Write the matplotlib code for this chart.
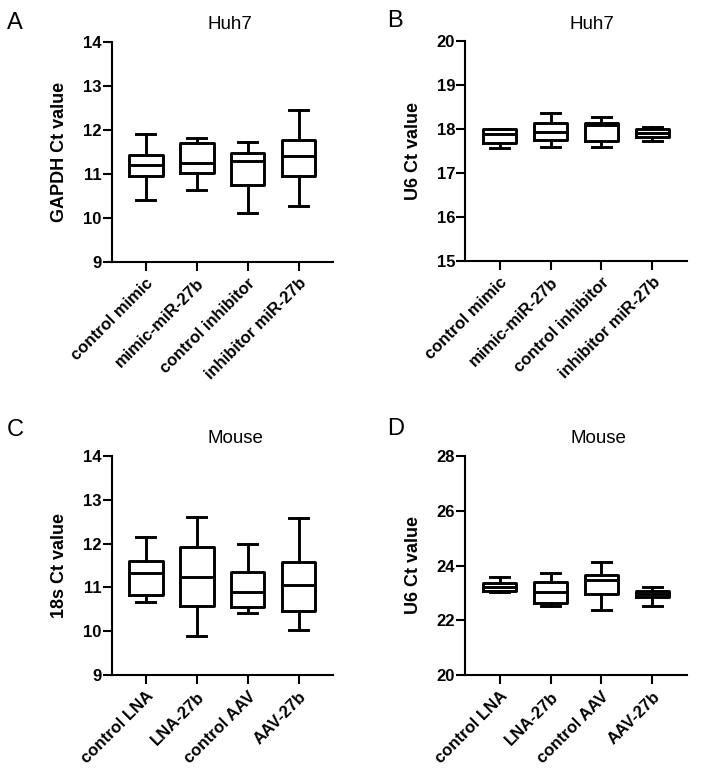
import matplotlib
matplotlib.use("Agg")
import matplotlib.pyplot as plt

plt.rcParams['font.family'] = ['Liberation Sans', 'DejaVu Sans']

# ─── Data ───────────────────────────────────────────────────────────────────
huh7_groups = ["control mimic", "mimic-miR-27b", "control inhibitor", "inhibitor miR-27b"]
mouse_groups = ["control LNA", "LNA-27b", "control AAV", "AAV-27b"]

# each list: whisker low, Q1, median, Q3, whisker high
gapdh_lo  = [10.42, 10.64, 10.12, 10.27]
gapdh_q1  = [10.95, 11.02, 10.75, 10.95]
gapdh_med = [11.20, 11.25, 11.30, 11.41]
gapdh_q3  = [11.44, 11.70, 11.49, 11.77]
gapdh_hi  = [11.91, 11.82, 11.73, 12.45]

u6h_lo  = [17.57, 17.59, 17.60, 17.74]
u6h_q1  = [17.68, 17.76, 17.73, 17.83]
u6h_med = [17.89, 17.95, 18.09, 17.92]
u6h_q3  = [18.00, 18.15, 18.14, 18.00]
u6h_hi  = [18.00, 18.36, 18.29, 18.06]

s18_lo  = [10.67, 9.89, 10.41, 10.03]
s18_q1  = [10.83, 10.59, 10.55, 10.47]
s18_med = [11.33, 11.23, 10.89, 11.05]
s18_q3  = [11.61, 11.91, 11.36, 11.58]
s18_hi  = [12.15, 12.61, 12.00, 12.58]

u6m_lo  = [23.02, 22.51, 22.37, 22.51]
u6m_q1  = [23.08, 22.63, 22.95, 22.85]
u6m_med = [23.22, 23.05, 23.46, 22.98]
u6m_q3  = [23.35, 23.39, 23.66, 23.07]
u6m_hi  = [23.58, 23.73, 24.12, 23.22]


def make_stats(lo, q1, med, q3, hi):
    return [dict(whislo=a, q1=b, med=c, q3=d, whishi=e, fliers=[])
            for a, b, c, d, e in zip(lo, q1, med, q3, hi)]


def panel(rect, stats, labels, ylim, yticks, ylabel, title, title_x, letter, letter_xy):
    ax = fig.add_axes(rect)
    lw = 2.1
    ax.bxp(stats, positions=range(len(stats)), widths=0.66, capwidths=0.38,
           showfliers=False,
           boxprops=dict(color='black', linewidth=lw),
           medianprops=dict(color='black', linewidth=lw),
           whiskerprops=dict(color='black', linewidth=lw),
           capprops=dict(color='black', linewidth=lw))
    ax.set_xlim(-0.67, len(stats) - 0.33)
    ax.set_ylim(*ylim)
    ax.set_yticks(yticks)
    ax.set_xticks(range(len(labels)))
    ax.set_xticklabels(labels, rotation=45, ha='right', rotation_mode='anchor',
                       fontsize=12, fontweight='bold')
    for t in ax.get_yticklabels():
        t.set_fontweight('bold')
        t.set_fontsize(12)
    ax.spines['top'].set_visible(False)
    ax.spines['right'].set_visible(False)
    ax.spines['left'].set_linewidth(1.5)
    ax.spines['bottom'].set_linewidth(1.5)
    ax.tick_params(axis='y', width=1.5, length=6.5, pad=1)
    ax.tick_params(axis='x', width=1.5, length=6.5, pad=3)
    ax.set_ylabel(ylabel, fontsize=13, fontweight='bold')
    ax.yaxis.set_label_coords(-0.195, 0.5)
    ax.text(title_x, 1.04, title, transform=ax.transAxes, ha='center',
            va='bottom', fontsize=13.5)
    fig.text(letter_xy[0], letter_xy[1], letter, fontsize=17,
             ha='left', va='baseline')
    return ax


fig = plt.figure(figsize=(7.02, 7.80), dpi=100)

panel([0.159, 0.664, 0.315, 0.282], make_stats(gapdh_lo, gapdh_q1, gapdh_med, gapdh_q3, gapdh_hi),
      huh7_groups, (9, 14), range(9, 15), "GAPDH Ct value", "Huh7", 0.535, "A", (0.010, 0.963))
panel([0.663, 0.665, 0.315, 0.282], make_stats(u6h_lo, u6h_q1, u6h_med, u6h_q3, u6h_hi),
      huh7_groups, (15, 20), range(15, 21), "U6 Ct value", "Huh7", 0.57, "B", (0.552, 0.965))
panel([0.159, 0.134, 0.315, 0.282], make_stats(s18_lo, s18_q1, s18_med, s18_q3, s18_hi),
      mouse_groups, (9, 14), range(9, 15), "18s Ct value", "Mouse", 0.56, "C", (0.010, 0.441))
panel([0.663, 0.134, 0.315, 0.282], make_stats(u6m_lo, u6m_q1, u6m_med, u6m_q3, u6m_hi),
      mouse_groups, (20, 28), range(20, 29, 2), "U6 Ct value", "Mouse", 0.60, "D", (0.552, 0.442))

plt.savefig("out.png", dpi=100)
